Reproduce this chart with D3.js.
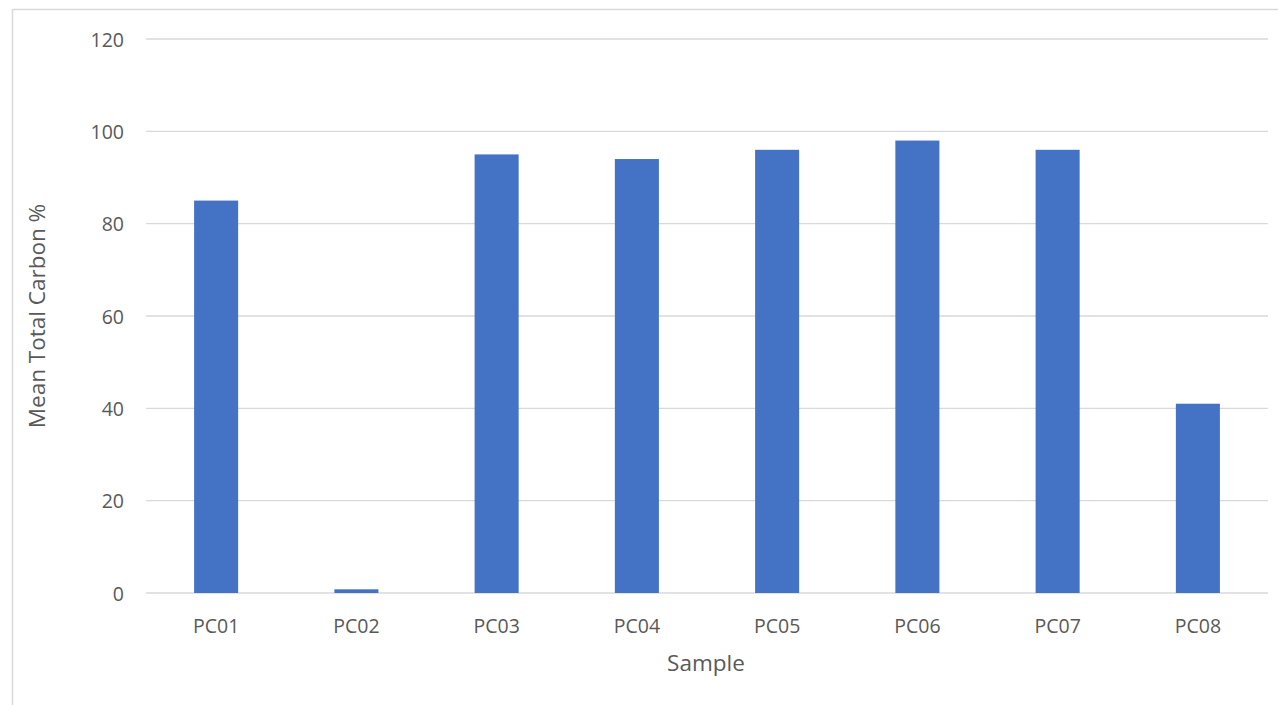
<!DOCTYPE html>
<html>
<head>
<meta charset="utf-8">
<script src="https://cdn.jsdelivr.net/npm/d3@7"></script>
<style>
  html, body { margin: 0; padding: 0; background: #fff; }
  svg { display: block; font-family: "Open Sans", "Noto Sans", sans-serif; }
</style>
</head>
<body>
<script>
// Mean total carbon per sample
const samples = ["PC01", "PC02", "PC03", "PC04", "PC05", "PC06", "PC07", "PC08"];
const carbon = [85, 0.8, 95, 94, 96, 98, 96, 41];
const yTicks = [0, 20, 40, 60, 80, 100, 120];

const W = 1278, H = 705;
const plot = { left: 146, right: 1268, top: 39, bottom: 593 };

const svg = d3.select("body").append("svg")
  .attr("width", W).attr("height", H);

// chart frame
svg.append("rect")
  .attr("x", 12.5).attr("y", 9.5)
  .attr("width", W + 10).attr("height", H + 10)
  .attr("fill", "none").attr("stroke", "#d9d9d9").attr("stroke-width", 1.5);

const x = d3.scaleBand().domain(samples).range([plot.left, plot.right])
  .paddingInner(0.686).paddingOuter(0.343);
const y = d3.scaleLinear().domain([0, 120]).range([plot.bottom, plot.top]);

// gridlines
svg.append("g").selectAll("line").data(yTicks).join("line")
  .attr("x1", plot.left).attr("x2", plot.right)
  .attr("y1", d => y(d)).attr("y2", d => y(d))
  .attr("stroke", "#d9d9d9").attr("stroke-width", 1.3);

// bars
svg.append("g").selectAll("rect").data(samples).join("rect")
  .attr("x", d => x(d))
  .attr("width", x.bandwidth())
  .attr("y", (d, i) => y(carbon[i]))
  .attr("height", (d, i) => y(0) - y(carbon[i]))
  .attr("fill", "#4472c4");

// y axis labels
const yAxis = svg.append("g")
  .attr("transform", `translate(${plot.left - 22},1)`)
  .call(d3.axisLeft(y).tickValues(yTicks).tickSize(0).tickPadding(0));
yAxis.select(".domain").remove();
yAxis.selectAll("text")
  .attr("fill", "#595959").style("font-size", "19.5px").style("font-family", "Open Sans, sans-serif");

// x axis labels
const xAxis = svg.append("g")
  .attr("transform", `translate(0,${plot.bottom + 26})`)
  .call(d3.axisBottom(x).tickSize(0).tickPadding(0));
xAxis.select(".domain").remove();
xAxis.selectAll("text")
  .attr("fill", "#595959").style("font-size", "19.5px").style("font-family", "Open Sans, sans-serif");

// axis titles
svg.append("text")
  .attr("x", (plot.left + plot.right) / 2 - 1).attr("y", 671)
  .attr("text-anchor", "middle")
  .attr("fill", "#595959").style("font-size", "22.5px")
  .text("Sample");

svg.append("text")
  .attr("transform", `translate(45,${(plot.top + plot.bottom) / 2}) rotate(-90)`)
  .attr("text-anchor", "middle")
  .attr("fill", "#595959").style("font-size", "22.5px")
  .text("Mean Total Carbon %");
</script>
</body>
</html>
